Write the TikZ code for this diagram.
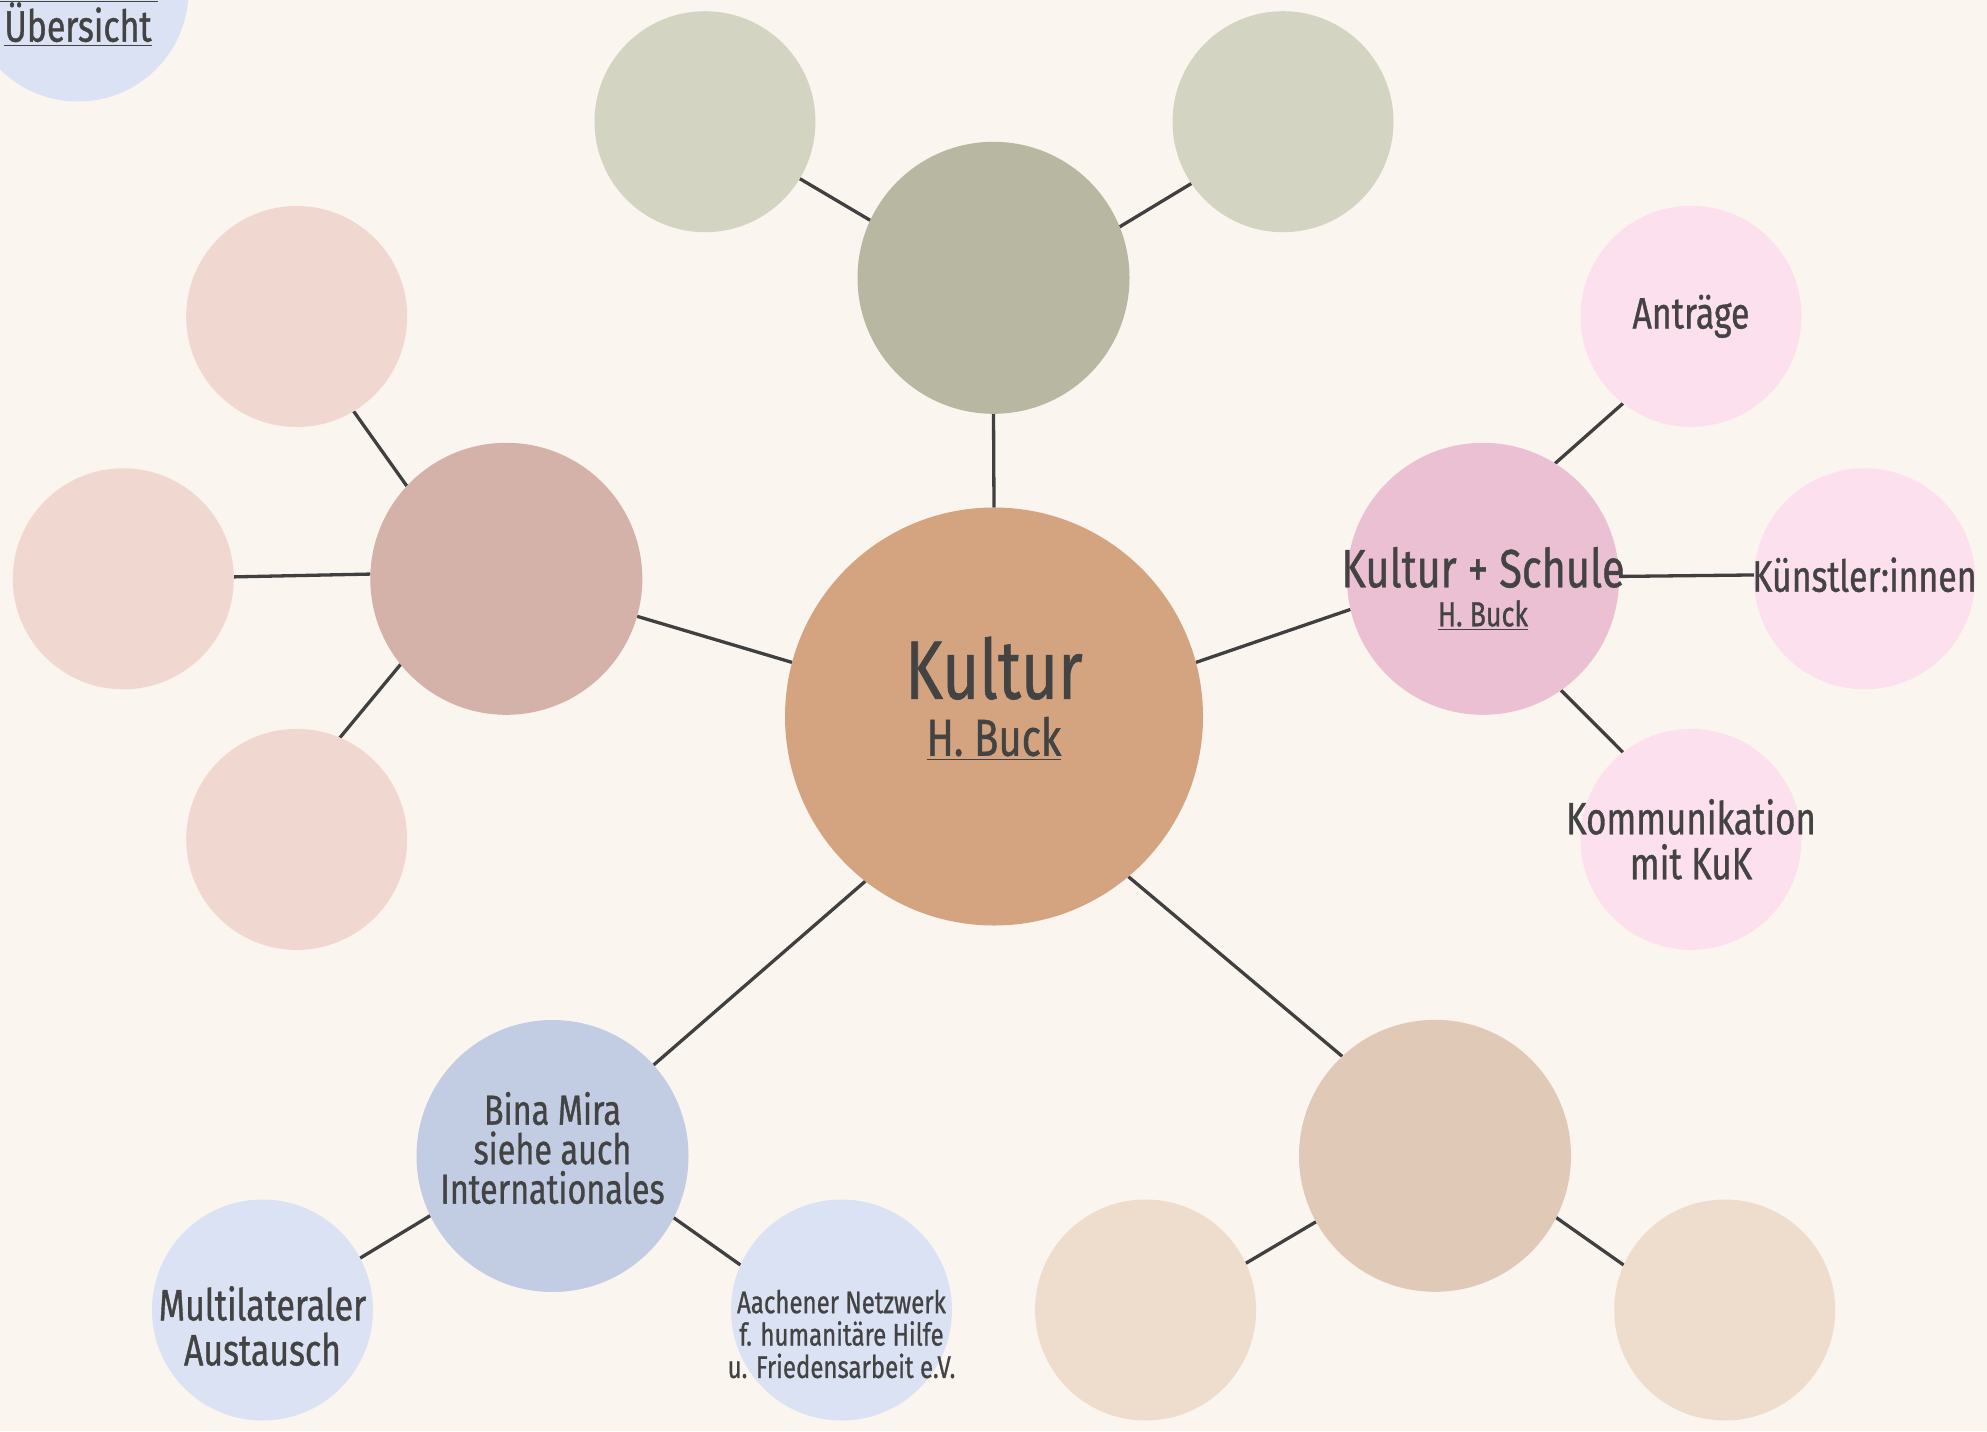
\documentclass[tikz,border=0pt]{standalone}
\usepackage{fontspec}
\setmainfont{Fira Sans}[FakeStretch=0.77,FakeBold=0.8]
\usetikzlibrary{positioning}
\definecolor{paper}{HTML}{FAF5EF}
\definecolor{ink}{HTML}{434343}
\definecolor{wire}{HTML}{404040}
\definecolor{kulfill}{HTML}{D4A37F}
\definecolor{grnfill}{HTML}{B8B7A2}
\definecolor{grnleaf}{HTML}{D4D4C2}
\definecolor{rosfill}{HTML}{D4B2A9}
\definecolor{rosleaf}{HTML}{F0D7CF}
\definecolor{ksfill}{HTML}{EBC0D3}
\definecolor{ksleaf}{HTML}{FDE0ED}
\definecolor{bmfill}{HTML}{C2CDE3}
\definecolor{bmleaf}{HTML}{DBE2F3}
\definecolor{sndfill}{HTML}{E0CAB7}
\definecolor{sndleaf}{HTML}{EEDCCC}
\pgfdeclarelayer{paperlayer}
\pgfdeclarelayer{wirelayer}
\pgfsetlayers{paperlayer,wirelayer,main}
\tikzset{
  bubble/.style={circle, inner sep=0pt, outer sep=0pt},
  hub/.style={bubble, fill=kulfill, minimum size=209pt},
  branch/.style={bubble, minimum size=136pt},
  leaf/.style={bubble, minimum size=110.5pt},
  caption/.style={align=center, text=ink, inner sep=0pt, font=\fontsize{22}{22.5}\selectfont},
  link/.style={draw=wire, line width=1.65pt},
}
\begin{document}
\begin{tikzpicture}[x=0.5pt,y=-0.5pt]
\useasboundingbox (0,0) rectangle (1987,1431);
% the nodes
\node [hub, label={[caption,name=kulT,yshift=9pt,font=\fontsize{26}{28.5}\selectfont]center:{{\fontsize{41.4}{28.5}\selectfont Kultur}\\\underline{H. Buck}}}] (kul) at (994,716.5) {};
\node [branch,fill=grnfill] (grn) at (993.5,277.8) {};
\node [leaf,fill=grnleaf] (grnA) at (705,121.7) {};
\node [leaf,fill=grnleaf] (grnB) at (1283,121.7) {};
\node [branch,fill=rosfill] (ros) at (506.3,578.8) {};
\node [leaf,fill=rosleaf] (rosA) at (296.7,316.5) {};
\node [leaf,fill=rosleaf] (rosB) at (123.3,578.8) {};
\node [leaf,fill=rosleaf] (rosC) at (296.7,839.4) {};
\node [branch,fill=ksfill, label={[caption,name=ksT,yshift=-5pt,font=\fontsize{26.9}{19.5}\selectfont]center:{Kultur + Schule\\{\fontsize{17.4}{19.5}\selectfont\underline{H. Buck}}}}] (ks) at (1483,578.8) {};
\node [leaf,fill=ksleaf, label={[caption,name=ksAT]center:Anträge}] (ksA) at (1691,316.3) {};
\node [leaf,fill=ksleaf, label={[caption,name=ksBT,yshift=2pt]center:Künstler:innen}] (ksB) at (1864.5,578.8) {};
\node [leaf,fill=ksleaf, label={[caption,name=ksCT,yshift=0pt,font=\fontsize{22.6}{22.5}\selectfont]center:{Kommunikation\\mit KuK}}] (ksC) at (1691,839.4) {};
\node [branch,fill=bmfill, label={[caption,name=bmT,yshift=4pt,font=\fontsize{21}{19.75}\selectfont]center:{Bina Mira\\siehe auch\\Internationales}}] (bm) at (552.5,1156) {};
\node [leaf,fill=bmleaf, label={[caption,name=bmAT,yshift=-8pt]center:{Multilateraler\\Austausch}}] (bmA) at (262.5,1310) {};
\node [leaf,fill=bmleaf, label={[caption,name=bmBT,yshift=-12pt,font=\fontsize{15.6}{16.2}\selectfont]center:{Aachener Netzwerk\\f. humanitäre Hilfe\\u. Friedensarbeit e.V.}}] (bmB) at (841.5,1310) {};
\node [branch,fill=sndfill] (snd) at (1435,1155.8) {};
\node [leaf,fill=sndleaf] (sndA) at (1145.6,1310) {};
\node [leaf,fill=sndleaf] (sndB) at (1724.7,1310) {};
\node [leaf,fill=bmleaf, label={[caption,name=backT,yshift=-7pt,font=\fontsize{22}{22}\selectfont]center:{\underline{Zurück zur}\\\underline{Übersicht}}}] (back) at (78,-9) {};
%drawings of lines
\begin{pgfonlayer}{paperlayer}
\fill [paper] (0,0) rectangle (1987,1431);
\end{pgfonlayer}
\begin{pgfonlayer}{wirelayer}
\draw [link] (kul.north) -- (grn.south);
\draw [link] (grn.155.6) -- (grnA.-31.3);
\draw [link] (grn.22.5) -- (grnB.214.6);

\draw [link] (kul.165.5) -- (ros.-16);
\draw [link] (ros.137.5) -- (rosA.-59.7);
\draw [link] (ros.178.6) -- (rosB.1.5);
\draw [link] (ros.219.4) -- (rosC.67);

\draw [link] (kul.15) -- (ks.193);
\draw [link] (ks.58.5) -- (ksA.232);
\draw [link] (ks.1.5) -- (ksB.178.5);
\draw [link] (ks.-55.4) -- (ksC.128.6);

\draw [link] (kul.232.9) -- (bm.42.8);
\draw [link] (bm.206.5) -- (bmA.28.5);
\draw [link] (bm.-27.7) -- (bmB.156);

\draw [link] (kul.-50.6) -- (snd.133.5);
\draw [link] (snd.209.2) -- (sndA.25.4);
\draw [link] (snd.-27.9) -- (sndB.156.4);
\end{pgfonlayer}
\end{tikzpicture}
\end{document}
